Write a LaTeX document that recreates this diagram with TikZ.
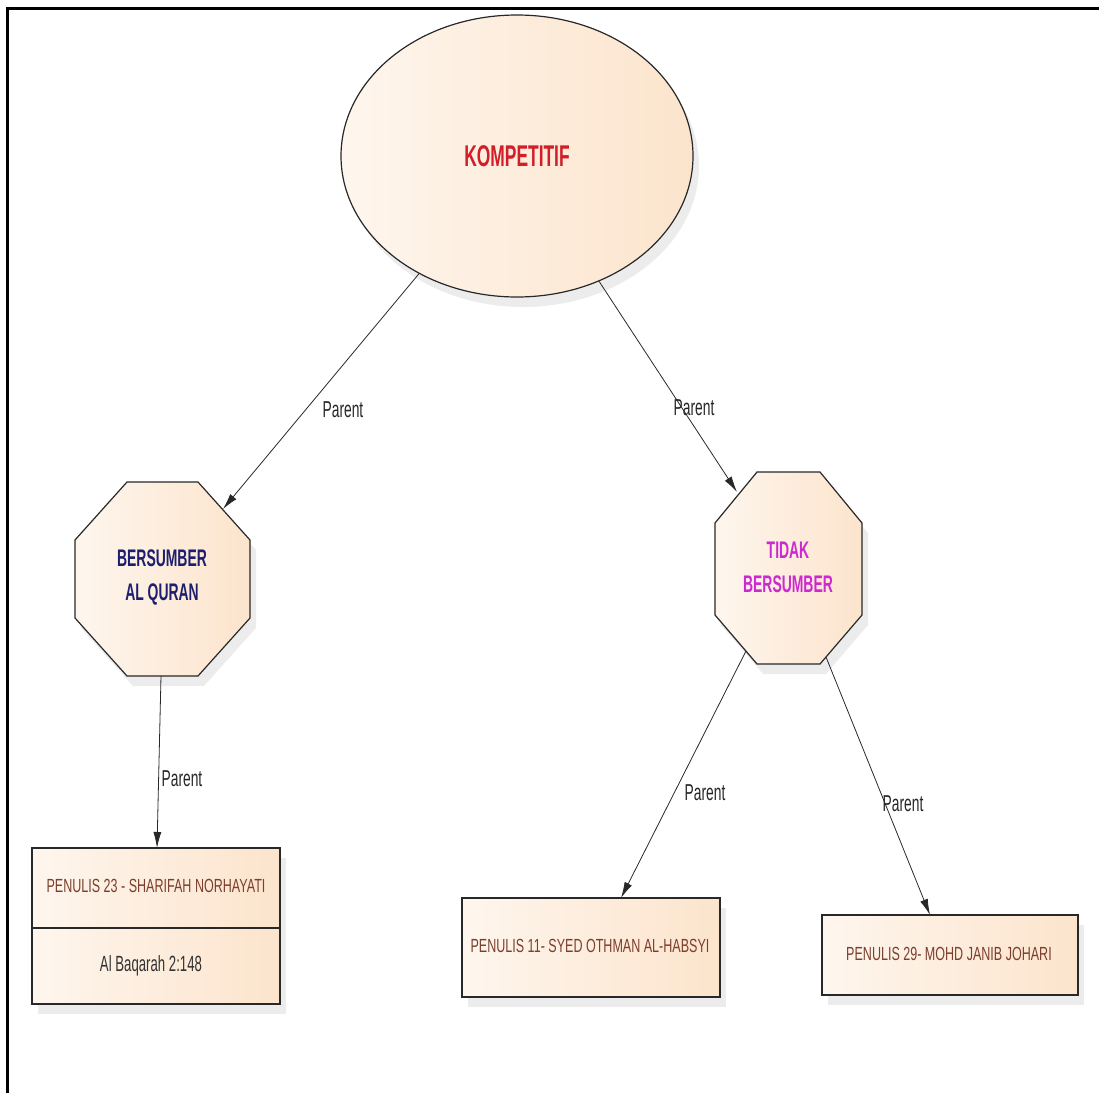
\documentclass[tikz,border=0pt]{standalone}
\usepackage{fontspec}
\setmainfont{Liberation Sans}[FakeStretch=0.66]
\newfontfamily\narrowfont{Liberation Sans}[FakeStretch=0.58]
\newfontfamily\lblfont{Liberation Sans}[FakeStretch=0.6]
\usetikzlibrary{shapes.geometric,shadows,arrows.meta}
\definecolor{cream}{RGB}{254,246,238}
\definecolor{peach}{RGB}{252,228,204}
\definecolor{kred}{RGB}{210,30,40}
\definecolor{knavy}{RGB}{30,30,110}
\definecolor{kmag}{RGB}{205,40,210}
\definecolor{kbrown}{RGB}{125,62,45}
\definecolor{kline}{RGB}{40,40,40}
\begin{document}
\begin{tikzpicture}[x=1pt,y=-1pt,
  shapefill/.style={left color=cream,right color=peach,draw=kline,line width=1.2pt,
    drop shadow={shadow xshift=6pt,shadow yshift=-10pt,opacity=0.15,fill=gray}},
  boxnode/.style={shapefill,rectangle,inner sep=0pt},
  conn/.style={draw=kline,line width=0.8pt,-{Latex[length=16pt,width=8pt]}},
  lbl/.style={font=\lblfont\fontsize{23}{26}\selectfont,text=black!85,inner sep=1pt},
  oct/.style={font=\narrowfont\bfseries\fontsize{24}{34}\selectfont,align=center,inner sep=0pt},
  pen/.style={font=\fontsize{19}{22}\selectfont,text=kbrown,inner sep=0pt}]
\useasboundingbox (0,0) rectangle (1099,1093);
% frame
\draw[line width=3pt] (7.5,1093) -- (7.5,8.5) -- (1099,8.5);
% root ellipse
\node[shapefill,ellipse,minimum width=352pt,minimum height=282pt,inner sep=0pt,
  font=\narrowfont\bfseries\fontsize{30}{32}\selectfont,text=kred] (kom) at (517,156) {KOMPETITIF};
% left octagon
\path[shapefill] (127,482) -- (198,482) -- (250,540) -- (250,618) -- (198,676)
  -- (127,676) -- (75,618) -- (75,540) -- cycle;
\node[oct,text=knavy] (bq) at (162,577) {BERSUMBER\\AL QURAN};
% right octagon
\path[shapefill] (757,472) -- (820,472) -- (862,523) -- (862,615) -- (820,664)
  -- (757,664) -- (715,615) -- (715,523) -- cycle;
\node[oct,text=kmag] (tb) at (788,567) {TIDAK\\BERSUMBER};
% boxes
\node[boxnode,minimum width=248pt,minimum height=80pt] (b1) at (156,888) {};
\node[boxnode,minimum width=248pt,minimum height=76pt] (b1b) at (156,966) {};
\node[pen] (t1) at (156,886) {PENULIS 23 - SHARIFAH NORHAYATI};
\node[font=\lblfont\fontsize{22}{24}\selectfont,text=black!80,inner sep=0pt] (t1b) at (151,966) {Al Baqarah 2:148};
\node[boxnode,minimum width=258pt,minimum height=99pt] (b2) at (591,947.5) {};
\node[pen] (t2) at (590,946) {PENULIS 11- SYED OTHMAN AL-HABSYI};
\node[boxnode,minimum width=256pt,minimum height=80pt] (b3) at (950,955) {};
\node[pen] (t3) at (949,954) {PENULIS 29- MOHD JANIB JOHARI};
% connector endpoints
\coordinate (bqtip) at (223,509);
\coordinate (tbtip) at (737,492);
\coordinate (bqbot) at (161,676);
\coordinate (b1top) at (157,848);
\coordinate (tbl) at (746,651);
\coordinate (b2top) at (621,898);
\coordinate (tbr) at (826,657);
\coordinate (b3top) at (930,915);
% connectors
\draw[conn] (kom) -- (bqtip);
\draw[conn] (kom) -- (tbtip);
\draw[conn] (bqbot) -- (b1top);
\draw[conn] (tbl) -- (b2top);
\draw[conn] (tbr) -- (b3top);
% labels
\node[lbl] (l1) at (343,410) {Parent};
\node[lbl] (l2) at (694,408) {Parent};
\node[lbl] (l3) at (182,779) {Parent};
\node[lbl] (l4) at (705,793) {Parent};
\node[lbl] (l5) at (903,804) {Parent};
\end{tikzpicture}
\end{document}
